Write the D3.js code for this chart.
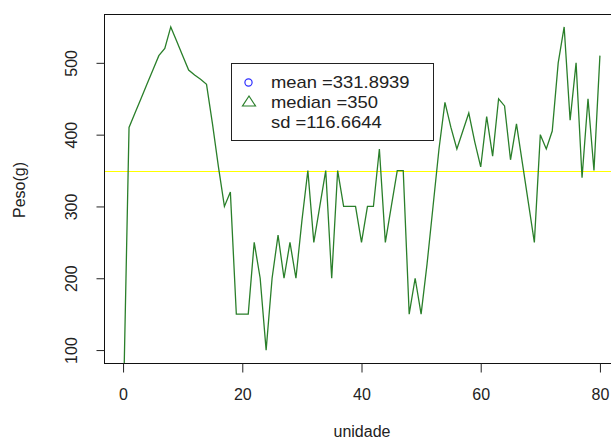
<!DOCTYPE html>
<html>
<head>
<meta charset="utf-8">
<script src="https://cdn.jsdelivr.net/npm/d3@7"></script>
<style>
  body { margin: 0; background: #fff; }
  svg text { font-family: "Liberation Sans", Arial, sans-serif; fill: #222; }
</style>
</head>
<body>
<div id="container"></div>
<script>
// peso por unidade
const unidade = d3.range(0, 81);
const peso = [0, 410, 430, 450, 470, 490, 510, 520, 550, 530, 510,
    490, 483, 477, 470, 415, 355, 300, 320, 150, 150,
    150, 250, 200, 100, 200, 260, 200, 250, 200, 280,
    350, 250, 300, 350, 200, 350, 300, 300, 300, 250,
    300, 300, 380, 250, 300, 350, 350, 150, 200, 150,
    220, 300, 380, 445, 410, 380, 405, 430, 390, 355,
    425, 370, 450, 440, 365, 415, 360, 305, 250, 400,
    380, 405, 500, 550, 420, 500, 340, 450, 350, 510];
const xTicks = [0, 20, 40, 60, 80];
const yTicks = [100, 200, 300, 400, 500];
const mediana = 350;
const legendLabels = ["mean =331.8939", "median =350", "sd =116.6644"];

const width = 611, height = 439;
const margins = {top: 14, bottom: 76, left: 104, right: -8};

const svg = d3.select("#container").append("svg")
    .attr("width", width).attr("height", height);

const x = d3.scaleLinear().domain([-3.2, 83.2])
    .range([margins.left, width - margins.right]);
const y = d3.scaleLinear().domain([82, 568])
    .range([height - margins.bottom, margins.top]);

svg.append("clipPath").attr("id", "plotarea")
    .append("rect")
    .attr("x", x(-3.2)).attr("y", y(568))
    .attr("width", x(83.2) - x(-3.2)).attr("height", y(82) - y(568));

// linha da mediana
svg.append("line")
    .attr("x1", x(-3.2)).attr("x2", x(83.2))
    .attr("y1", Math.round(y(mediana)) + 0.5).attr("y2", Math.round(y(mediana)) + 0.5)
    .attr("stroke", "#ffff00").attr("stroke-width", 1);

const line = d3.line().x((d, i) => x(unidade[i])).y(d => y(d));
svg.append("path")
    .datum(peso)
    .attr("clip-path", "url(#plotarea)")
    .attr("d", line)
    .attr("fill", "none")
    .attr("stroke", "#2a7f2a")
    .attr("stroke-width", 1.3);

// caixa
svg.append("rect")
    .attr("x", x(-3.2) + 0.5).attr("y", y(568) + 0.5)
    .attr("width", x(83.2) - x(-3.2)).attr("height", y(82) - y(568))
    .attr("fill", "none").attr("stroke", "#111").attr("stroke-width", 1);

const xAxis = svg.append("g")
    .attr("transform", `translate(0, ${y(82) + 0.5})`)
    .call(d3.axisBottom(x).tickValues(xTicks).tickSize(9).tickFormat(d3.format("d")));
xAxis.select(".domain").remove();
xAxis.selectAll("line").attr("stroke", "#222");
xAxis.selectAll("text").attr("y", 36).attr("dy", null)
    .style("font-size", "16px").style("fill", "#222");

const yAxis = svg.append("g")
    .attr("transform", `translate(${x(-3.2) + 0.5}, 0)`)
    .call(d3.axisLeft(y).tickValues(yTicks).tickSize(8).tickFormat(d3.format("d")));
yAxis.select(".domain").remove();
yAxis.selectAll("line").attr("stroke", "#222");
yAxis.selectAll("text")
    .attr("x", 0).attr("y", -28).attr("dy", null)
    .attr("transform", "rotate(-90)")
    .style("text-anchor", "middle")
    .style("font-size", "16px").style("fill", "#222");

svg.append("text")
    .attr("x", 362).attr("y", 437)
    .attr("text-anchor", "middle")
    .style("font-size", "16px")
    .text("unidade");

svg.append("text")
    .attr("transform", "translate(25,190) rotate(-90)")
    .attr("text-anchor", "middle")
    .style("font-size", "16px")
    .text("Peso(g)");

// legenda
const leg = svg.append("g");
leg.append("rect")
    .attr("x", 231.5).attr("y", 63.5).attr("width", 202).attr("height", 77)
    .attr("fill", "#fff").attr("stroke", "#222").attr("stroke-width", 1);
leg.append("circle")
    .attr("cx", 248.5).attr("cy", 82.5).attr("r", 3.6)
    .attr("fill", "none").attr("stroke", "#3030ff").attr("stroke-width", 1.2);
leg.append("path")
    .attr("d", "M242.5,106 L255.5,106 L249,96 Z")
    .attr("fill", "none").attr("stroke", "#2a7f2a").attr("stroke-width", 1.2);
leg.selectAll("text.lab")
    .data(legendLabels)
    .enter().append("text")
    .attr("class", "lab")
    .attr("transform", (d, i) => `translate(271, ${88 + i * 20}) scale(1.15,1)`)
    .style("font-size", "16px")
    .text(d => d);
</script>
</body>
</html>
